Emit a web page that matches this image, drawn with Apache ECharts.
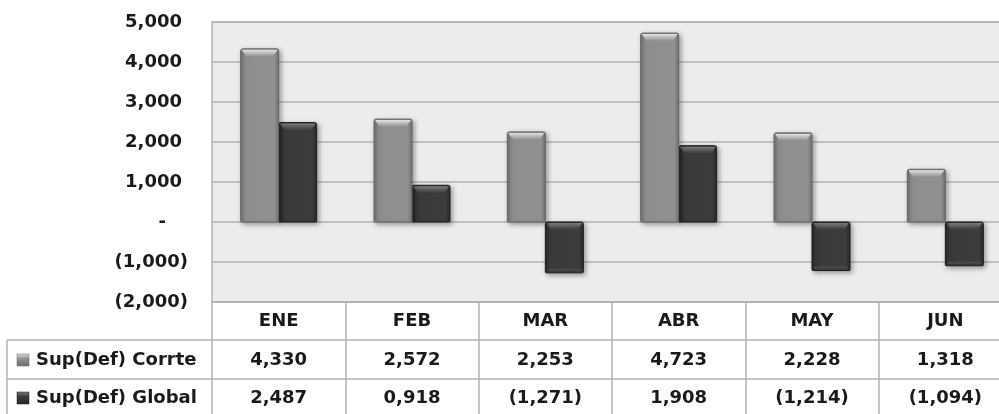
<!DOCTYPE html>
<html><head><meta charset="utf-8">
<script src="https://cdn.jsdelivr.net/npm/echarts@6/dist/echarts.min.js"></script>
<style>html,body{margin:0;padding:0;background:#fff}#c{width:999px;height:414px}</style>
</head><body><div id="c"></div>
<script>
const categories = ['ENE', 'FEB', 'MAR', 'ABR', 'MAY', 'JUN'];
const seriesNames = ['Sup(Def) Corrte', 'Sup(Def) Global'];
const corrte = [4330, 2572, 2253, 4723, 2228, 1318];
const global = [2487, 918, -1271, 1908, -1214, -1094];
const yTicks = { min: -2000, max: 5000, interval: 1000 };

const FONT = 'DejaVu Sans';
const TXT = '#1a1a1a';
const LINE = '#b2b2b2';

function fmtNum(v) {
  const a = Math.abs(v);
  let s = a.toLocaleString('en-US');
  if (a < 1000 && a > 0) s = '0,' + String(a).padStart(3, '0');
  return v < 0 ? '(' + s + ')' : s;
}
function fmtAxis(v) {
  if (v === 0) return '{z|-}';
  if (v < 0) return '{n|(' + Math.abs(v).toLocaleString('en-US') + ')}';
  return '{p|' + v.toLocaleString('en-US') + '}';
}

const palettes = [
  { body: ['#6f6f6f', '#8e8e8e', '#909090', '#727272'], bevel: ['#e2e2e2', '#8c8c8c'], edge: '#666666', bottom: '#7a7a7a' },
  { body: ['#262626', '#3a3a3a', '#3c3c3c', '#282828'], bevel: ['#7a7a7a', '#383838'], edge: '#1e1e1e', bottom: '#4a4a4a' }
];

function makeRender(sIdx) {
  return function (params, api) {
    const i = api.value(0), v = api.value(1);
    const p0 = api.coord([i, 0]);
    const p1 = api.coord([i, v]);
    const bw = api.size([1, 0])[0] * 0.285;
    const x = p0[0] - bw + sIdx * bw;
    const yTop = Math.min(p0[1], p1[1]);
    const yBot = Math.max(p0[1], p1[1]);
    const h = yBot - yTop;
    const pal = palettes[sIdx];
    const b = Math.min(8, h / 2);
    const children = [
      { type: 'rect', shape: { x: x, y: yTop, width: bw, height: h, r: [2, 2, 1, 1] },
        style: { fill: new echarts.graphic.LinearGradient(0, 0, 1, 0, [
          { offset: 0, color: pal.body[0] }, { offset: 0.12, color: pal.body[1] },
          { offset: 0.88, color: pal.body[2] }, { offset: 1, color: pal.body[3] }]),
          stroke: pal.edge, lineWidth: 1,
          shadowBlur: 5, shadowColor: 'rgba(0,0,0,0.35)', shadowOffsetX: 2, shadowOffsetY: 2 } },
      { type: 'polygon', shape: { points: [[x + 1, yTop + 1], [x + bw - 1, yTop + 1], [x + bw - 1 - b * 0.6, yTop + b], [x + 1 + b * 0.6, yTop + b]] },
        style: { fill: new echarts.graphic.LinearGradient(0, 0, 0, 1, [
          { offset: 0, color: pal.bevel[0] }, { offset: 1, color: pal.bevel[1] }]) } }
    ];
    if (v < 0) {
      children.push({ type: 'rect', shape: { x: x + 2, y: yBot - 4, width: bw - 4, height: 2 },
        style: { fill: pal.bottom } });
    }
    return { type: 'group', children: children };
  };
}

const rowsData = [corrte, global];
const graphics = [];
[340, 379].forEach(function (y) {
  graphics.push({ type: 'line', shape: { x1: 7, y1: y, x2: 1020, y2: y }, style: { stroke: LINE, lineWidth: 1.5 }, silent: true });
});
graphics.push({ type: 'line', shape: { x1: 7, y1: 340, x2: 7, y2: 414 }, style: { stroke: LINE, lineWidth: 1.5 }, silent: true });
seriesNames.forEach(function (name, k) {
  const cy = k === 0 ? 360 : 398;
  const pal = palettes[k];
  graphics.push({ type: 'rect', shape: { x: 17, y: cy - 6, width: 12, height: 12 },
    style: { fill: new echarts.graphic.LinearGradient(0, 0, 0, 1, [
      { offset: 0, color: pal.bevel[0] }, { offset: 0.4, color: pal.body[1] }, { offset: 1, color: pal.body[0] }]),
      stroke: pal.edge, lineWidth: 0.5 } });
  graphics.push({ type: 'text', x: 36, y: cy, style: { text: name, font: 'bold 18px ' + FONT, fill: TXT, verticalAlign: 'middle' } });
});

const labelBase = { fontFamily: FONT, fontWeight: 'bold', fontSize: 18, color: TXT, verticalAlign: 'middle' };

const option = {
  animation: false,
  backgroundColor: '#ffffff',
  grid: { left: 212, top: 22, width: 800, height: 280, outerBoundsMode: 'none', containLabel: false,
    show: true, backgroundColor: '#ececec', borderColor: LINE, borderWidth: 1.5 },
  xAxis: [
    { type: 'category', data: categories, position: 'bottom',
      axisLine: { show: true, onZero: false, lineStyle: { color: LINE, width: 1.5 } },
      axisTick: { show: true, length: 112, lineStyle: { color: LINE, width: 1.5 } },
      axisLabel: Object.assign({ margin: 19 }, labelBase),
      splitLine: { show: false } },
    { type: 'category', data: categories, position: 'bottom', offset: 38,
      axisLine: { show: false }, axisTick: { show: false },
      axisLabel: Object.assign({ margin: 20, formatter: function (v, i) { return fmtNum(rowsData[0][i]); } }, labelBase) },
    { type: 'category', data: categories, position: 'bottom', offset: 77,
      axisLine: { show: false }, axisTick: { show: false },
      axisLabel: Object.assign({ margin: 19, formatter: function (v, i) { return fmtNum(rowsData[1][i]); } }, labelBase) }
  ],
  yAxis: {
    type: 'value', min: yTicks.min, max: yTicks.max, interval: yTicks.interval,
    axisLine: { show: false }, axisTick: { show: false },
    splitLine: { show: true, lineStyle: { color: LINE, width: 1.5 } },
    axisLabel: { margin: 24, fontFamily: FONT, fontWeight: 'bold', fontSize: 18, color: TXT,
      formatter: fmtAxis,
      rich: {
        p: { fontFamily: FONT, fontWeight: 'bold', fontSize: 18, color: TXT, padding: [0, 6, 0, 0] },
        n: { fontFamily: FONT, fontWeight: 'bold', fontSize: 18, color: TXT },
        z: { fontFamily: FONT, fontWeight: 'bold', fontSize: 18, color: TXT, padding: [0, 22, 0, 0] }
      } }
  },
  series: [
    { name: seriesNames[0], type: 'custom', renderItem: makeRender(0), data: corrte.map(function (v, i) { return [i, v]; }), encode: { x: 0, y: 1 }, z: 3 },
    { name: seriesNames[1], type: 'custom', renderItem: makeRender(1), data: global.map(function (v, i) { return [i, v]; }), encode: { x: 0, y: 1 }, z: 2 }
  ],
  graphic: graphics
};

const chart = echarts.init(document.getElementById('c'), null, { renderer: 'canvas' });
chart.setOption(option);
</script>
</body></html>
